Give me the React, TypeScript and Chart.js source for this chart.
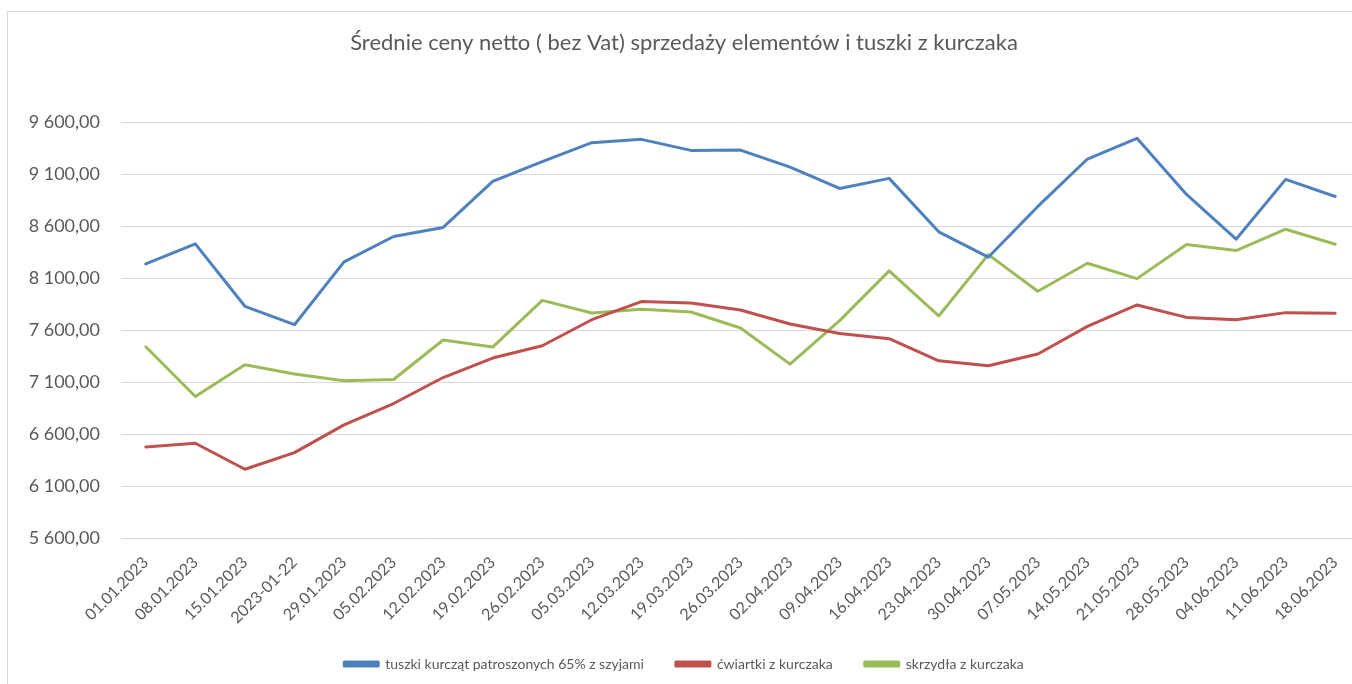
import React, { useEffect, useRef } from "react";
import { Chart, registerables } from "chart.js";

Chart.register(...registerables);

const TITLE = "Średnie ceny netto ( bez Vat) sprzedaży elementów i tuszki z kurczaka";

const categories = [
  "01.01.2023", "08.01.2023", "15.01.2023", "2023-01-22", "29.01.2023", "05.02.2023",
  "12.02.2023", "19.02.2023", "26.02.2023", "05.03.2023", "12.03.2023", "19.03.2023",
  "26.03.2023", "02.04.2023", "09.04.2023", "16.04.2023", "23.04.2023", "30.04.2023",
  "07.05.2023", "14.05.2023", "21.05.2023", "28.05.2023", "04.06.2023", "11.06.2023",
  "18.06.2023",
];

const seriesNames = [
  "tuszki kurcząt patroszonych 65% z szyjami",
  "ćwiartki z kurczaka",
  "skrzydła z kurczaka",
];

const tuszki = [
  8236, 8428, 7828, 7651, 8255, 8499, 8586, 9029, 9220, 9401, 9433, 9327,
  9330, 9166, 8961, 9058, 8544, 8300, 8788, 9244, 9443, 8903, 8473, 9048, 8884,
];

const cwiartki = [
  6475, 6511, 6261, 6421, 6688, 6893, 7143, 7330, 7449, 7699, 7873, 7860,
  7792, 7658, 7567, 7516, 7304, 7256, 7369, 7635, 7841, 7721, 7699, 7767, 7760,
];

const skrzydla = [
  7439, 6960, 7266, 7176, 7112, 7124, 7504, 7436, 7885, 7764, 7799, 7773,
  7619, 7272, 7690, 8168, 7735, 8325, 7972, 8242, 8094, 8422, 8364, 8569, 8425,
];

const yMin = 5600;
const yMax = 9600;
const yStep = 500;

const colors = ["#4f81bd", "#c0504d", "#9bbb59"];

function formatPl(v: number): string {
  const fixed = Math.abs(v).toFixed(2);
  const [intPart, dec] = fixed.split(".");
  const withSpaces = intPart.replace(/\B(?=(\d{3})+(?!\d))/g, " ");
  return (v < 0 ? "-" : "") + withSpaces + "," + dec;
}

export default function App() {
  const canvasRef = useRef<HTMLCanvasElement | null>(null);

  useEffect(() => {
    const canvas = canvasRef.current;
    if (!canvas) return;
    const textColor = "#595959";
    const family = "Lato, 'Noto Sans', sans-serif";
    const chart = new Chart(canvas, {
      type: "line",
      data: {
        labels: categories,
        datasets: [tuszki, cwiartki, skrzydla].map((d, i) => ({
          label: seriesNames[i],
          data: d,
          borderColor: colors[i],
          backgroundColor: colors[i],
          borderWidth: 3,
          pointRadius: 0,
          pointHoverRadius: 0,
          tension: 0,
          borderJoinStyle: "round" as const,
          borderCapStyle: "round" as const,
          fill: false,
        })),
      },
      options: {
        responsive: false,
        animation: false,
        devicePixelRatio: 1,
        layout: { padding: { left: 0, right: 1, top: 0, bottom: 0 } },
        plugins: {
          title: {
            display: true,
            text: TITLE,
            color: textColor,
            font: { family, size: 22, weight: "normal" },
            padding: { top: 18, bottom: 65.6 },
          },
          legend: {
            position: "bottom",
            labels: {
              color: textColor,
              font: { family, size: 14 },
              boxWidth: 34,
              boxHeight: 4,
              padding: 32,
            },
          },
          tooltip: { enabled: false },
        },
        scales: {
          x: {
            offset: true,
            grid: { display: false },
            border: { display: false },
            afterFit: (scale: any) => {
              scale.height = 87;
            },
            ticks: {
              color: textColor,
              font: { family, size: 16 },
              minRotation: 45,
              maxRotation: 45,
              autoSkip: false,
              padding: 7,
            },
          },
          y: {
            min: yMin,
            max: yMax,
            grid: { color: "#d9d9d9", lineWidth: 1, drawTicks: false },
            border: { display: false },
            afterFit: (scale: any) => {
              scale.width = 113;
            },
            ticks: {
              stepSize: yStep,
              color: textColor,
              font: { family, size: 18 },
              padding: 21,
              callback: (v: any) => formatPl(Number(v)),
            },
          },
        },
      },
    });
    return () => chart.destroy();
  }, []);

  return (
    <div
      style={{
        position: "fixed",
        left: 0,
        top: 0,
        width: 1352,
        height: 684,
        overflow: "hidden",
        background: "#fff",
      }}
    >
      <div
        style={{
          position: "absolute",
          left: 7,
          top: 11,
          width: 1353,
          height: 680,
          border: "1px solid #d9d9d9",
          background: "#fff",
        }}
      >
        <canvas ref={canvasRef} width={1353} height={669} style={{ display: "block" }} />
      </div>
    </div>
  );
}
